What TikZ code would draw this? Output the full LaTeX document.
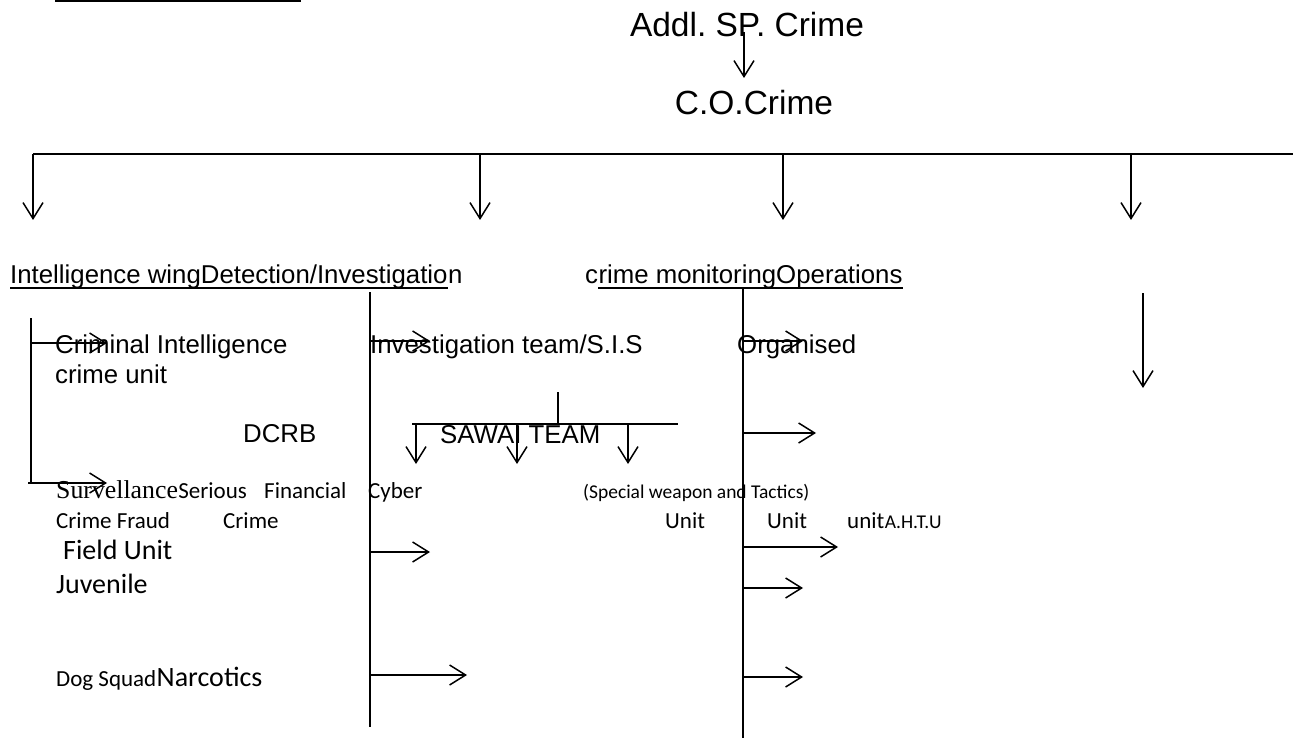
\documentclass[tikz,border=0pt]{standalone}
\usepackage{fontspec}
\setmainfont{Liberation Sans}
\newfontfamily\timesfont{Liberation Serif}
\newfontfamily\calfont{Carlito}
\frenchspacing
\usetikzlibrary{arrows.meta,positioning}
\definecolor{orgInk}{HTML}{000000}
\tikzset{
  every picture/.style={text=orgInk},
  org line/.style={draw=orgInk, line width=1.5pt},
  org arrow/.style={org line, -{Straight Barb[length=16pt,width=20pt]}},
  org big/.style={inner sep=0pt, anchor=base, font=\fontsize{33.5}{38}\selectfont},
  org text/.style={inner sep=0pt, anchor=base west, font=\fontsize{25.8}{30}\selectfont},
  org serif/.style={inner sep=0pt, anchor=base west, font=\timesfont\fontsize{25.8}{30}\selectfont},
  org cal/.style={inner sep=0pt, anchor=base west, font=\calfont\fontsize{23}{27}\selectfont},
  org cal big/.style={inner sep=0pt, anchor=base west, font=\calfont\fontsize{28}{32}\selectfont},
  org cal small/.style={inner sep=0pt, anchor=base west, font=\calfont\fontsize{19.5}{23}\selectfont}
}

\begin{document}
\begin{tikzpicture}[x=1pt,y=-1pt]
  \useasboundingbox (0,0) rectangle (1301,738);
  \draw[org line] (55,1) -- (301,1);
  % head of the chart
  \node[org big] (addl) at (747,37) {Addl. SP. Crime};
  \node[org big] (co) at (754,115) {C.O.Crime};
  \draw[org arrow] (744,32) -- (744,78);
  \coordinate (busL) at (33,154);
  \coordinate (busR) at (1293,154);
  \draw[org line] (busL) -- (busR);
  \foreach \x in {33,480,783,1131} \draw[org arrow] (\x,154) -- (\x,220);
  % wing headings
  \node[org text] (headA) at (10,283) {Intelligence wingDetection/Investigatio};
  \node[org text] (headAn) at (headA.base east) {n};
  \draw[org line] ([yshift=-5pt]headA.base west) -- ([yshift=-5pt]headA.base east);
  \node[org text] (headBc) at (585,283) {c};
  \node[org text] (headB) at (headBc.base east) {rime monitoringOperations};
  \draw[org line] ([yshift=-5pt]headB.base west) -- ([yshift=-5pt]headB.base east);
  % spines
  \coordinate (intelTop) at (31,318);
  \coordinate (intelBot) at (31,483);
  \coordinate (detTop) at (370,292);
  \coordinate (detBot) at (370,727);
  \coordinate (monTop) at (743,288);
  \coordinate (monBot) at (743,738);
  \draw[org line] (intelTop) -- (intelBot);
  \draw[org line] (detTop) -- (detBot);
  \draw[org line] (monTop) -- (monBot);
  \draw[org arrow] (1143,293) -- (1143,388);
  % intelligence wing
  \node[org text] (crimInt) at (55,353) {Criminal Intelligence};
  \node[org text] (crimUnit) at (55,383) {crime unit};
  \node[org text] (dcrb) at (243,442) {DCRB};
  \draw[org arrow] (31,343) -- (107,343);
  \draw[org arrow] (28,483) -- (107,483);
  \node[org serif] (surv) at (56,498) {Survellance};
  \node[org cal] (serious) at (surv.base east) {Serious};
  \node[org cal] (fin) at (264,498) {Financial};
  \node[org cal] (cyber) at (368,498) {Cyber};
  \node[org cal] (crimeFraud) at (56,528) {Crime Fraud};
  \node[org cal] (crime2) at (223,528) {Crime};
  \node[org cal big] (field) at (63,559) {Field Unit};
  \node[org cal big] (juv) at (56,593) {Juvenile};
  \node[org cal] (dog) at (56,686) {Dog Squad};
  \node[org cal big] (narc) at (dog.base east) {Narcotics};
  % detection / investigation
  \node[org text] (sis) at (370,353) {Investigation team/S.I.S};
  \draw[org arrow] (370,341) -- (430,341);
  \draw[org arrow] (370,552) -- (430,552);
  \draw[org arrow] (370,675) -- (467,675);
  \draw[org line] (558,392) -- (558,424);
  \draw[org line] (412,424) -- (678,424);
  \foreach \x in {416,517,628} \draw[org arrow] (\x,424) -- (\x,464);
  \node[org text] (sawat) at (440,443) {SAWAI TEAM};
  \node[org cal small] (swat) at (583,498) {(Special weapon and Tactics)};
  % crime monitoring / operations
  \node[org text] (organised) at (737,353) {Organised};
  \draw[org arrow] (743,341) -- (803,341);
  \draw[org arrow] (743,433) -- (816,433);
  \draw[org arrow] (743,547) -- (838,547);
  \draw[org arrow] (743,588) -- (803,588);
  \draw[org arrow] (743,677) -- (803,677);
  \node[org cal] (unitA) at (665,528) {Unit};
  \node[org cal] (unitB) at (767,528) {Unit};
  \node[org cal] (unitC) at (847,528) {unit};
  \node[org cal small] (ahtu) at (unitC.base east) {A.H.T.U};
\end{tikzpicture}
\end{document}
